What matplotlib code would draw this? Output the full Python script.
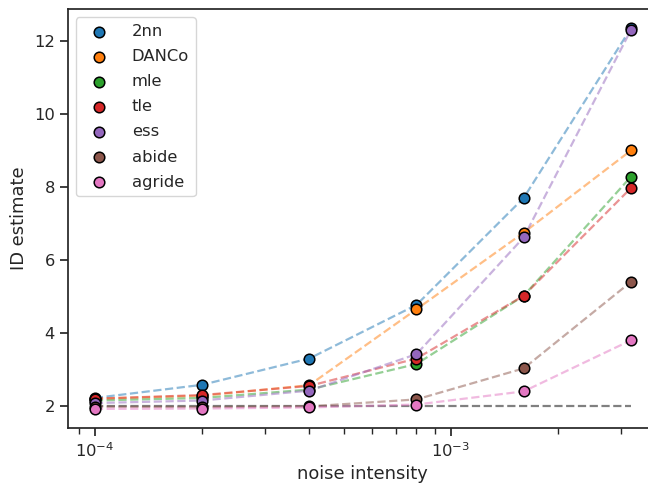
import matplotlib
matplotlib.use("Agg")
import matplotlib.pyplot as plt
import seaborn as sns
import numpy as np

sns.set_theme(style="ticks", font_scale=1.07)
plt.rcParams["font.family"] = ["DejaVu Sans"]

noise = np.array([1e-4, 2e-4, 4e-4, 8e-4, 1.6e-3, 3.2e-3])
true_id = [2, 2, 2, 2, 2, 2]

methods = ["2nn", "DANCo", "mle", "tle", "ess", "abide", "agride"]
est_2nn = [2.22, 2.58, 3.30, 4.77, 7.70, 12.35]
est_danco = [2.20, 2.28, 2.57, 4.65, 6.75, 9.00]
est_mle = [2.15, 2.22, 2.45, 3.15, 5.02, 8.28]
est_tle = [2.20, 2.30, 2.55, 3.30, 5.02, 7.97]
est_ess = [2.08, 2.15, 2.42, 3.42, 6.62, 12.30]
est_abide = [1.98, 1.97, 1.99, 2.18, 3.03, 5.40]
est_agride = [1.92, 1.93, 1.96, 2.04, 2.40, 3.80]
estimates = [est_2nn, est_danco, est_mle, est_tle, est_ess, est_abide, est_agride]

fig = plt.figure(figsize=(6.48, 4.83), dpi=100)
ax = fig.add_axes([0.105, 0.114, 0.91, 0.867])

colors = sns.color_palette("tab10")
ax.plot(noise, true_id, ls="--", color="gray", lw=1.6, zorder=1)
for i, (name, est) in enumerate(zip(methods, estimates)):
    ax.plot(noise, est, ls="--", color=colors[i], alpha=0.5, lw=1.6, zorder=1)
for i, (name, est) in enumerate(zip(methods, estimates)):
    ax.scatter(noise, est, color=colors[i], edgecolor="black", s=58,
               linewidth=1.1, label=name, zorder=2)

ax.set_xscale("log")
ax.set_xlabel("noise intensity")
ax.set_ylabel("ID estimate")
ax.legend(loc="upper left", labelspacing=0.62, handletextpad=1.0)

fig.savefig("out.png", dpi=100)
